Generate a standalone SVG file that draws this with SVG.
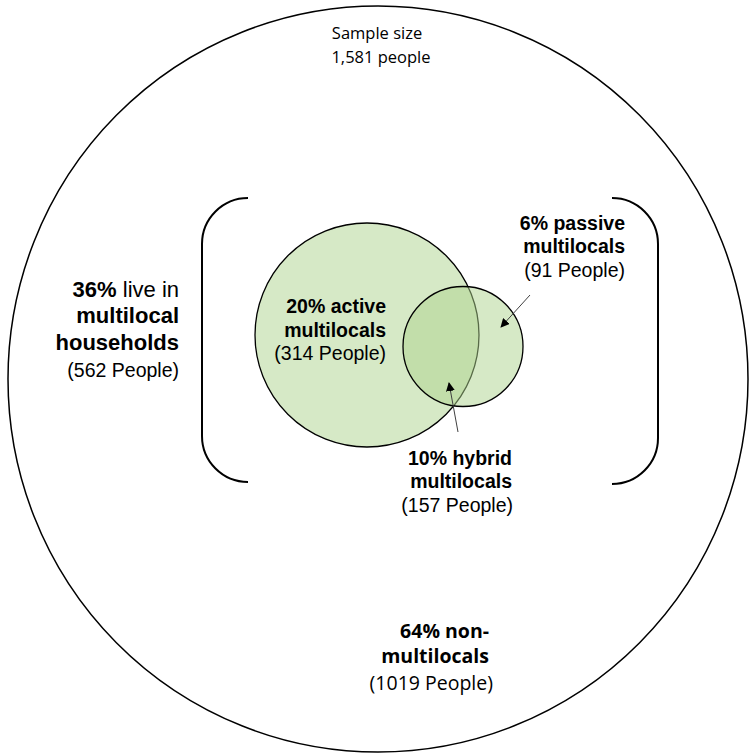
<svg xmlns="http://www.w3.org/2000/svg" width="750" height="756" viewBox="0 0 750 756">
<defs>
<style>
.sans{font-family:"Liberation Sans",Arial,sans-serif;fill:#000}
.cal{font-family:"Open Sans","Noto Sans",sans-serif;fill:#000}
.b{font-weight:bold}
.br{fill:none;stroke:#000;stroke-width:2}
.ar{stroke:#404040;stroke-width:1;fill:none}
</style>
<marker id="ah" viewBox="0 0 10 10" refX="9" refY="5" markerWidth="9" markerHeight="9" markerUnits="userSpaceOnUse" orient="auto">
<path d="M0,0 L10,5 L0,10 z" fill="#000"/>
</marker>
</defs>
<rect width="750" height="756" fill="#fff"/>
<g id="sample">
<ellipse cx="378" cy="379" rx="370" ry="373" fill="none" stroke="#000" stroke-width="1.5"/>
<text class="cal" x="377" y="39" font-size="16.5" text-anchor="middle">Sample size</text>
<text class="cal" x="381" y="63" font-size="16.5" text-anchor="middle">1,581 people</text>
</g>
<g id="bracket-left"><path class="br" d="M248,198 A46,46 0 0 0 202,244 L202,436 A46,46 0 0 0 248,482"/></g>
<g id="bracket-right"><path class="br" d="M612,198 A46,46 0 0 1 658,244 L658,438 A46,46 0 0 1 612,484"/></g>
<g id="active">
<circle cx="367" cy="335" r="112" fill="#d6e9c6" stroke="#000" stroke-width="1.3"/>
<text class="sans b" x="386" y="313" font-size="19.5" text-anchor="end">20% active</text>
<text class="sans b" x="386" y="337" font-size="19.5" text-anchor="end">multilocals</text>
<text class="sans" x="386" y="360" font-size="19.5" text-anchor="end">(314 People)</text>
</g>
<g id="passive">
<circle cx="463" cy="346.5" r="60" fill="#add38d" fill-opacity="0.5" stroke="#000" stroke-width="1.3"/>
<text class="sans b" x="625" y="230" font-size="19.5" text-anchor="end">6% passive</text>
<text class="sans b" x="625" y="253" font-size="19.5" text-anchor="end">multilocals</text>
<text class="sans" x="625" y="277" font-size="19.5" text-anchor="end">(91 People)</text>
</g>
<g id="hybrid">
<text class="sans b" x="512" y="465" font-size="19.5" text-anchor="end">10% hybrid</text>
<text class="sans b" x="512" y="488" font-size="19.5" text-anchor="end">multilocals</text>
<text class="sans" x="513" y="512" font-size="19.5" text-anchor="end">(157 People)</text>
</g>
<g id="multilocal-households">
<text class="sans" x="179" y="297" font-size="22" text-anchor="end"><tspan class="b">36%</tspan> live in</text>
<text class="sans b" x="179" y="323" font-size="22" text-anchor="end">multilocal</text>
<text class="sans b" x="179" y="350" font-size="22" text-anchor="end">households</text>
<text class="sans" x="179" y="377" font-size="19.5" text-anchor="end">(562 People)</text>
</g>
<g id="non-multilocals">
<text class="cal b" x="489" y="638" font-size="19.5" text-anchor="end">64% non-</text>
<text class="cal b" x="489" y="663" font-size="19.5" text-anchor="end">multilocals</text>
<text class="cal" x="493" y="690" font-size="19.5" text-anchor="end">(1019 People)</text>
</g>
<g id="connectors">
<line class="ar" x1="530" y1="295" x2="501" y2="327" marker-end="url(#ah)"/>
<line class="ar" x1="458" y1="432" x2="449" y2="383" marker-end="url(#ah)"/>
</g>
</svg>
